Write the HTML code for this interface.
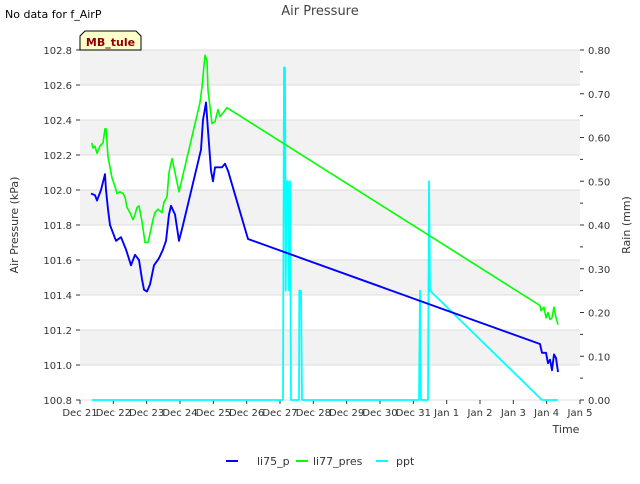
<!DOCTYPE html>
<html><head><meta charset="utf-8"><style>
body{margin:0;background:#fff;font-family:"DejaVu Sans","Liberation Sans",sans-serif;}
svg text{font-family:"DejaVu Sans","Liberation Sans",sans-serif;}
</style></head><body>
<svg id="c" width="640" height="480" xmlns="http://www.w3.org/2000/svg">
<text x="5" y="18" font-size="11" fill="#000">No data for f_AirP</text>
<text x="320" y="15" font-size="13" fill="#444" text-anchor="middle">Air Pressure</text>
<g id="plot"></g>
<g>
<path d="M80,50 L80,36 L85,31 L136,31 L141,36 L141,50 Z" fill="#ffffcc" stroke="#000" stroke-width="1"/>
<text x="110.5" y="46" font-size="11" font-weight="bold" fill="#8b0000" text-anchor="middle">MB_tule</text>
</g>
<text transform="translate(18,225) rotate(-90)" font-size="11" fill="#333" text-anchor="middle">Air Pressure (kPa)</text>
<text transform="translate(630,225) rotate(-90)" font-size="11" fill="#333" text-anchor="middle">Rain (mm)</text>
<text x="566" y="433" font-size="11" fill="#333" text-anchor="middle">Time</text>
<g>
<g><line x1="226" y1="461" x2="238" y2="461" stroke="#0000ff" stroke-width="2"/><text x="257" y="465" font-size="11" fill="#333">li75_p</text></g>
<g><line x1="296" y1="461" x2="308" y2="461" stroke="#00ff00" stroke-width="2"/><text x="313" y="465" font-size="11" fill="#333">li77_pres</text></g>
<g><line x1="376" y1="461" x2="388" y2="461" stroke="#00ffff" stroke-width="2"/><text x="396" y="465" font-size="11" fill="#333">ppt</text></g>
</g>
</svg>
<script>
const xTickLabels=["Dec 21","Dec 22","Dec 23","Dec 24","Dec 25","Dec 26","Dec 27","Dec 28","Dec 29","Dec 30","Dec 31","Jan 1","Jan 2","Jan 3","Jan 4","Jan 5"];
const yTicks=[100.8,101.0,101.2,101.4,101.6,101.8,102.0,102.2,102.4,102.6,102.8];
const y2Ticks=[0,0.1,0.2,0.3,0.4,0.5,0.6,0.7,0.8];
const blueDays=[0.33,0.45,0.51,0.63,0.75,0.78,0.84,0.90,1.08,1.23,1.38,1.53,1.65,1.77,1.86,1.92,2.01,2.10,2.22,2.37,2.49,2.58,2.67,2.73,2.85,2.97,3.09,3.63,3.69,3.78,3.84,3.93,3.99,4.05,4.17,4.26,4.35,4.44,5.04,13.8,13.86,13.98,14.04,14.10,14.16,14.22,14.28,14.34];
const blueVals=[101.98,101.97,101.94,102.00,102.09,102.00,101.89,101.80,101.71,101.73,101.66,101.57,101.63,101.60,101.49,101.43,101.42,101.46,101.57,101.61,101.66,101.71,101.86,101.91,101.86,101.71,101.80,102.23,102.40,102.50,102.34,102.11,102.05,102.13,102.13,102.13,102.15,102.11,101.72,101.12,101.07,101.07,101.01,101.03,100.97,101.06,101.04,100.96];
const greenDays=[0.35,0.39,0.45,0.51,0.60,0.69,0.75,0.78,0.84,0.96,1.05,1.11,1.20,1.29,1.35,1.41,1.50,1.59,1.65,1.71,1.77,1.86,1.95,2.04,2.10,2.19,2.25,2.34,2.46,2.52,2.61,2.67,2.76,2.85,2.97,3.60,3.66,3.75,3.81,3.84,3.96,4.05,4.14,4.20,4.29,4.41,13.80,13.83,13.92,13.98,14.04,14.10,14.16,14.22,14.28,14.34];
const greenVals=[102.27,102.24,102.25,102.21,102.25,102.27,102.35,102.35,102.19,102.07,102.02,101.98,101.99,101.98,101.96,101.90,101.87,101.83,101.86,101.90,101.91,101.82,101.70,101.70,101.75,101.83,101.87,101.89,101.87,101.93,101.96,102.10,102.18,102.10,101.99,102.50,102.59,102.77,102.74,102.57,102.38,102.39,102.46,102.42,102.44,102.47,101.34,101.31,101.33,101.27,101.30,101.26,101.27,101.33,101.27,101.23];
const pptDays=[0.36,6.09,6.12,6.15,6.17,6.20,6.24,6.27,6.30,6.33,6.57,6.58,6.63,6.66,10.17,10.20,10.23,10.44,10.47,10.50,13.86,14.34];
const pptVals=[0,0,0.76,0.76,0.25,0.50,0.50,0.25,0.50,0,0,0.25,0.25,0,0,0.25,0,0,0.50,0.25,0,0];

const L=80,R=580,T=50,B=400;
function xS(d){return L+d*(R-L)/15;}
function yS(v){return B-(v-100.8)*(B-T)/2.0;}
function y2S(v){return B-v*(B-T)/0.8;}
const NS="http://www.w3.org/2000/svg";
const plot=document.getElementById('plot');
function mk(tag,attrs,parent){const e=document.createElementNS(NS,tag);for(const k in attrs)e.setAttribute(k,attrs[k]);(parent||plot).appendChild(e);return e;}

for(let i=0;i<yTicks.length-1;i++){
  if(i%2===1){
    const r=mk('rect',{x:L,y:yS(yTicks[i+1]),width:R-L,height:yS(yTicks[i])-yS(yTicks[i+1]),fill:'#f2f2f2'});
    
    
  }
}
yTicks.forEach(v=>{
  const g=mk('line',{x1:L,x2:R,y1:yS(v),y2:yS(v),stroke:'#dcdcdc','stroke-width':1});
  
  
  const t=mk('line',{x1:L-4,x2:L,y1:yS(v),y2:yS(v),stroke:'#333'});
  
  
  const lb=mk('text',{x:L-8,y:yS(v)+4,'font-size':10,fill:'#333','text-anchor':'end'});
  lb.textContent=v.toFixed(1);
  
  
});
y2Ticks.forEach((v,i)=>{
  const t=mk('line',{x1:R,x2:R+4,y1:y2S(v),y2:y2S(v),stroke:'#333'});
  
  
  if(i<y2Ticks.length-1){
    const m=mk('line',{x1:R,x2:R+3,y1:y2S(v+0.05),y2:y2S(v+0.05),stroke:'#333'});
    
    
  }
  const lb=mk('text',{x:R+8,y:y2S(v)+4,'font-size':10,fill:'#333'});
  lb.textContent=v.toFixed(2);
  
  
});
xTickLabels.forEach((s,i)=>{
  const t=mk('line',{x1:xS(i),x2:xS(i),y1:B,y2:B+4,stroke:'#333'});
  
  
  const lb=mk('text',{x:xS(i),y:B+16,'font-size':10,fill:'#333','text-anchor':'middle'});
  lb.textContent=s;
  
  
});
function series(days,vals,sc,color,w,name){
  const pts=days.map((d,i)=>xS(d).toFixed(1)+','+sc(vals[i]).toFixed(1)).join(' ');
  const p=mk('polyline',{points:pts,fill:'none',stroke:color,'stroke-width':w,'stroke-linejoin':'round'});
  
  
}
series(pptDays,pptVals,y2S,'#00ffff',1.8,'ppt-line');
series(greenDays,greenVals,yS,'#00ff00',1.6,'li77-pres-line');
series(blueDays,blueVals,yS,'#0000ff',1.9,'li75-p-line');
</script>
</body></html>
